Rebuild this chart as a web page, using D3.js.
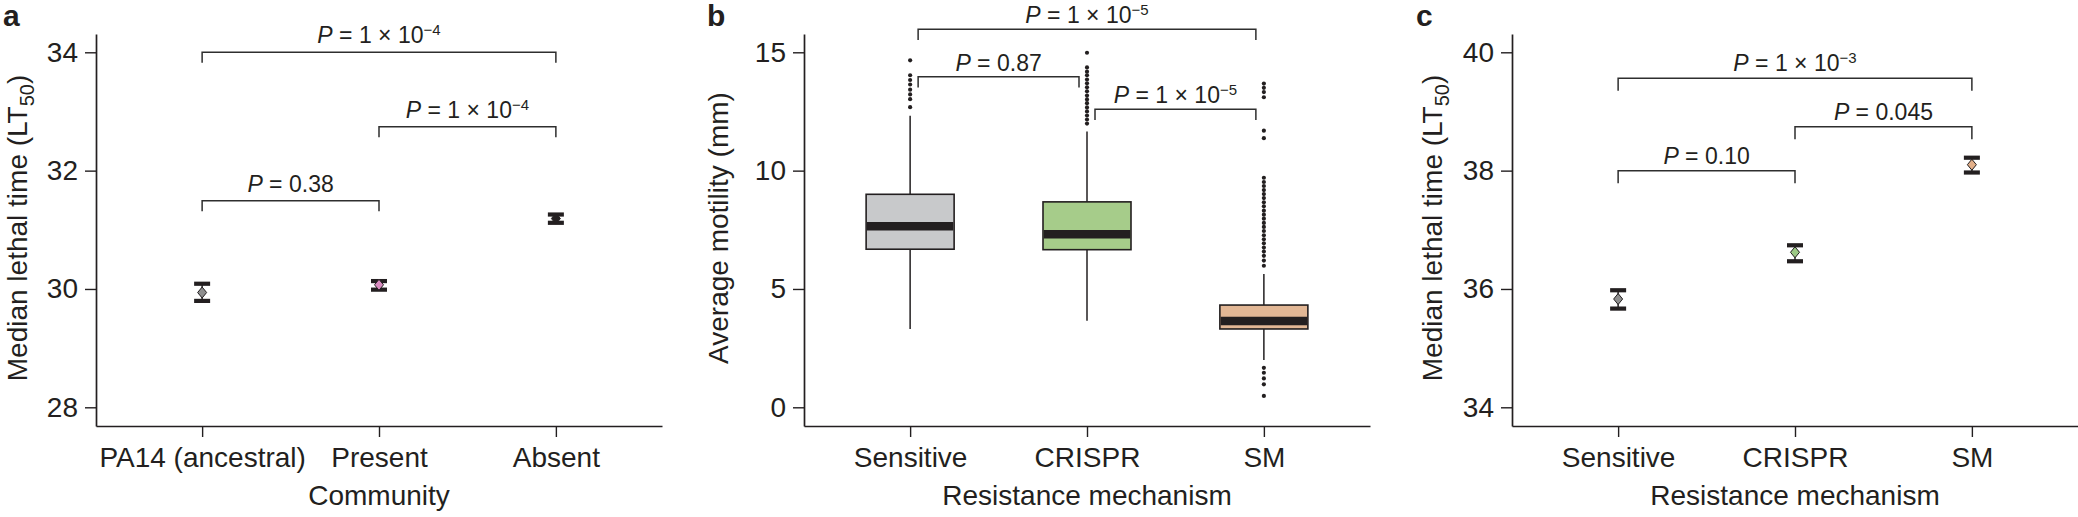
<!DOCTYPE html>
<html><head><meta charset="utf-8">
<script src="https://cdn.jsdelivr.net/npm/d3@7"></script>
<style>
html,body{margin:0;padding:0;background:#fff;}
svg{display:block;font-family:"Liberation Sans",Arial,Helvetica,sans-serif;}
text{white-space:pre;}
</style></head><body>
<svg id="chart" width="2078" height="517"></svg>
<script>
// ---------------- DATA ----------------
// Panel a
const catsA = ["PA14 (ancestral)", "Present", "Absent"];
const meanA = [29.94, 30.07, 31.19];
const lowA = [29.80, 29.99, 31.12];
const highA = [30.09, 30.135, 31.26];
const colorsA = ["#8e8e8e", "#d98cc0", "#231f20"];
const ticksA = [28, 30, 32, 34];
const brFromA = [0, 1, 0];
const brToA = [2, 2, 1];
const brYA = [34.0, 32.74, 31.49];
const brLabelA = ["P = 1 × 10^−4", "P = 1 × 10^−4", "P = 0.38"];

// Panel b
const catsB = ["Sensitive", "CRISPR", "SM"];
const q1B = [6.68, 6.66, 3.31];
const medB = [7.65, 7.31, 3.65];
const q3B = [9.00, 8.68, 4.32];
const whiskLoB = [3.31, 3.66, 2.00];
const whiskHiB = [12.32, 11.65, 5.63];
const outSensitive = [14.66, 14.03, 13.83, 13.64, 13.42, 13.22, 13.02, 12.68];
const outCRISPR = [14.98, 14.36, 14.18, 14.03, 13.85, 13.69, 13.52, 13.35, 13.17, 13.01, 12.85, 12.67, 12.50, 12.33, 12.16, 11.99];
const outSM = [13.68, 13.50, 13.32, 13.10, 11.69, 11.37,
  9.70, 9.52, 9.35, 9.18, 9.01, 8.84, 8.66, 8.49, 8.31, 8.14, 7.97, 7.79, 7.62, 7.45, 7.27, 7.10, 6.93, 6.75, 6.58, 6.40, 6.20, 5.98,
  1.67, 1.46, 1.22, 0.97, 0.48];
const colorsB = ["#c8c9cb", "#a6cc8a", "#e2b795"];
const ticksB = [0, 5, 10, 15];
const brFromB = [0, 0, 1];
const brToB = [2, 1, 2];
const brYB = [15.97, 13.97, 12.59];
const brLabelB = ["P = 1 × 10^−5", "P = 0.87", "P = 1 × 10^−5"];

// Panel c
const catsC = ["Sensitive", "CRISPR", "SM"];
const meanC = [35.83, 36.62, 38.10];
const lowC = [35.67, 36.47, 37.97];
const highC = [35.98, 36.74, 38.22];
const colorsC = ["#8e8e8e", "#9cc985", "#e3b08a"];
const ticksC = [34, 36, 38, 40];
const brFromC = [0, 1, 0];
const brToC = [2, 2, 1];
const brYC = [39.56, 38.74, 38.00];
const brLabelC = ["P = 1 × 10^−3", "P = 0.045", "P = 0.10"];

// ---------------- DRAWING ----------------
const svg = d3.select("#chart");
const INK = "#231f20";
const TOP = 34, BOTTOM = 426, PW = 566;
const TICK_HI_Y = 52.3, TICK_LO_Y = 407.3;

function makeScales(x0, cats, ticks) {
  const y0 = d3.scaleLinear().domain([ticks[0], ticks[ticks.length - 1]]).range([TICK_LO_Y, TICK_HI_Y]);
  const y = d3.scaleLinear().domain([y0.invert(BOTTOM), y0.invert(TOP)]).range([BOTTOM, TOP]);
  const x = d3.scalePoint().domain(cats).range([x0, x0 + PW]).padding(0.6);
  return {x, y};
}

function drawAxes(g, x0, x, y, ticks, xTitle, yTitle, yTitleOff, letter, letterX) {
  const ya = g.append("g").attr("transform", `translate(${x0},0)`)
    .call(d3.axisLeft(y).tickValues(ticks).tickSize(11).tickPadding(7).tickSizeOuter(0).tickFormat(d3.format("d")));
  const xa = g.append("g").attr("transform", `translate(0,${BOTTOM})`)
    .call(d3.axisBottom(x).tickSize(11).tickPadding(10).tickSizeOuter(0));
  [ya, xa].forEach(a => {
    a.select(".domain").attr("stroke", INK).attr("stroke-width", 1.7);
    a.selectAll(".tick line").attr("stroke", INK).attr("stroke-width", 1.4);
    a.selectAll(".tick text").attr("fill", INK).attr("font-size", 28).attr("font-family", "Liberation Sans, Arial, sans-serif");
  });
  const mid = x(x.domain()[1]);
  g.append("text").attr("x", mid).attr("y", 505).attr("text-anchor", "middle")
    .attr("font-size", 28).attr("fill", INK).text(xTitle);
  const t = g.append("text").attr("transform", `translate(${x0 - yTitleOff},228) rotate(-90)`)
    .attr("text-anchor", "middle").attr("font-size", 28).attr("fill", INK);
  if (yTitle.indexOf("_") >= 0) {
    const [pre, sub, post] = yTitle.split("_");
    t.append("tspan").text(pre);
    t.append("tspan").attr("font-size", 20).attr("dy", 7).text(sub);
    t.append("tspan").attr("dy", -7).text(post);
  } else t.text(yTitle);
  g.append("text").attr("x", letterX).attr("y", 26).attr("font-size", 30).attr("font-weight", "bold")
    .attr("fill", INK).text(letter);
}

function drawBrackets(g, x, y, cats, from, to, ys, labels, drop, inset, gap) {
  from.forEach((f, i) => {
    const xa = x(cats[f]) + inset, xb = x(cats[to[i]]) - inset, yy = y(ys[i]);
    g.append("path").attr("d", `M${xa},${yy + drop}V${yy}H${xb}V${yy + drop}`)
      .attr("fill", "none").attr("stroke", "#2e2e2e").attr("stroke-width", 1.5);
    const t = g.append("text").attr("x", (xa + xb) / 2).attr("y", yy - gap)
      .attr("text-anchor", "middle").attr("font-size", 23).attr("fill", INK);
    const [main, sup] = labels[i].split("^");
    t.append("tspan").attr("font-style", "italic").text(main.charAt(0));
    t.append("tspan").text(main.slice(1));
    if (sup) t.append("tspan").attr("font-size", 15).attr("dy", -8).text(sup);
  });
}

function diamond(cx, cy, w, h) {
  return `M${cx},${cy - h}L${cx + w},${cy}L${cx},${cy + h}L${cx - w},${cy}Z`;
}

function drawErrorBars(g, x, y, cats, mean, low, high, colors) {
  cats.forEach((c, i) => {
    const cx = x(c);
    g.append("line").attr("x1", cx).attr("x2", cx).attr("y1", y(low[i])).attr("y2", y(high[i]))
      .attr("stroke", INK).attr("stroke-width", 1.5);
    [low[i], high[i]].forEach(v => {
      g.append("rect").attr("x", cx - 8).attr("width", 16).attr("y", y(v) - 2).attr("height", 4.2).attr("fill", INK);
    });
    g.append("path").attr("d", diamond(cx, y(mean[i]), 4.5, 5.5))
      .attr("fill", colors[i]).attr("stroke", INK).attr("stroke-width", 1);
  });
}

function drawBoxes(g, x, y, cats, q1, med, q3, lo, hi, outs, colors) {
  const bw = 88;
  cats.forEach((c, i) => {
    const cx = x(c);
    g.append("line").attr("x1", cx).attr("x2", cx).attr("y1", y(lo[i])).attr("y2", y(q1[i]))
      .attr("stroke", INK).attr("stroke-width", 1.5);
    g.append("line").attr("x1", cx).attr("x2", cx).attr("y1", y(q3[i])).attr("y2", y(hi[i]))
      .attr("stroke", INK).attr("stroke-width", 1.5);
    g.append("rect").attr("x", cx - bw / 2).attr("width", bw).attr("y", y(q3[i])).attr("height", y(q1[i]) - y(q3[i]))
      .attr("fill", colors[i]).attr("stroke", INK).attr("stroke-width", 1.6);
    g.append("line").attr("x1", cx - bw / 2 + 0.8).attr("x2", cx + bw / 2 - 0.8).attr("y1", y(med[i])).attr("y2", y(med[i]))
      .attr("stroke", INK).attr("stroke-width", 8.5);
    g.selectAll(null).data(outs[i]).enter().append("circle")
      .attr("cx", cx).attr("cy", d => y(d)).attr("r", 2.1).attr("fill", INK);
  });
}

// Panel a
{
  const x0 = 96;
  const {x, y} = makeScales(x0, catsA, ticksA);
  const g = svg.append("g");
  drawAxes(g, x0, x, y, ticksA, "Community", "Median lethal time (LT_50_)", 69, "a", 3);
  drawBrackets(g, x, y, catsA, brFromA, brToA, brYA, brLabelA, 10.5, 0, 9);
  drawErrorBars(g, x, y, catsA, meanA, lowA, highA, colorsA);
}
// Panel b
{
  const x0 = 804;
  const {x, y} = makeScales(x0, catsB, ticksB);
  const g = svg.append("g");
  drawAxes(g, x0, x, y, ticksB, "Resistance mechanism", "Average motility (mm)", 76, "b", 707);
  drawBoxes(g, x, y, catsB, q1B, medB, q3B, whiskLoB, whiskHiB, [outSensitive, outCRISPR, outSM], colorsB);
  drawBrackets(g, x, y, catsB, brFromB, brToB, brYB, brLabelB, 10.7, 8, 6);
}
// Panel c
{
  const x0 = 1512;
  const {x, y} = makeScales(x0, catsC, ticksC);
  const g = svg.append("g");
  drawAxes(g, x0, x, y, ticksC, "Resistance mechanism", "Median lethal time (LT_50_)", 70, "c", 1416);
  drawBrackets(g, x, y, catsC, brFromC, brToC, brYC, brLabelC, 12.5, 0, 7);
  drawErrorBars(g, x, y, catsC, meanC, lowC, highC, colorsC);
}
</script>
</body></html>
